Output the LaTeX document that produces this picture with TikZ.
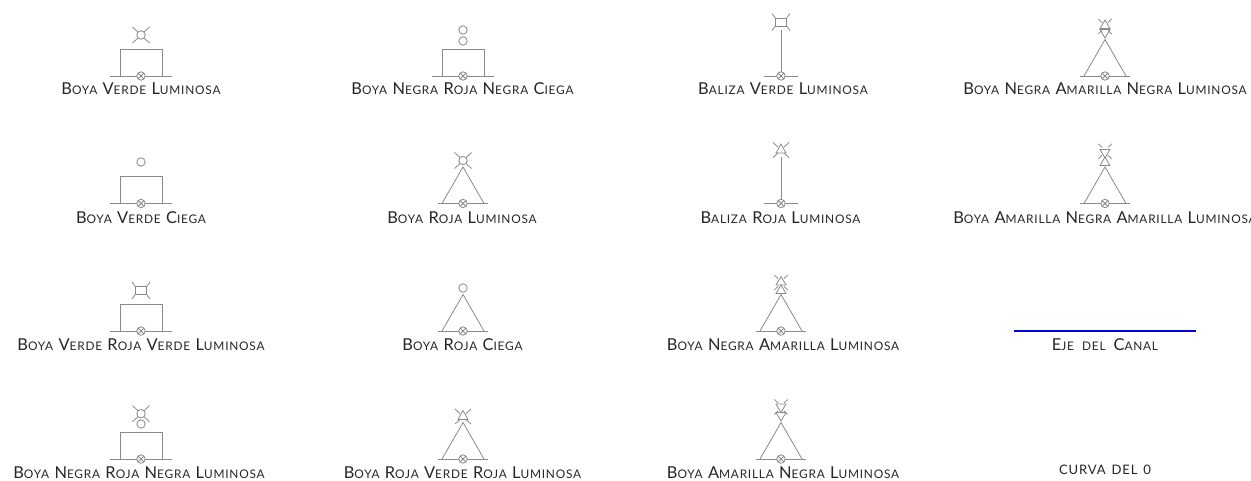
\documentclass[tikz,border=0pt]{standalone}
\usepackage{fontspec}
\setmainfont{Lato}[LetterSpace=6.5,WordSpace=1.4]
\newcommand\Cp[1]{{\fontsize{12.3}{12}\selectfont #1}}
\newcommand\Rays[4]{% half-width outer, half-height outer, inner x, inner y
  \draw (-#1,-#2) -- (-#3,-#4) (#1,-#2) -- (#3,-#4) (-#1,#2) -- (-#3,#4) (#1,#2) -- (#3,#4);}
\tikzset{
  x=0.75pt,y=-0.75pt,
  sym/.style={draw=black!46,line width=0.6pt},
  lab/.style={font=\fontsize{8.9}{10}\selectfont,text=black!85,inner sep=0pt,anchor=base},
  every pic/.style={sym},
  pics/mark/.style={code={\draw (0,0) circle (4.2); \draw (-3,-3) -- (3,3) (-3,3) -- (3,-3);}},
  pics/boxbase/.style={code={
    \draw (-31,0) -- (-4.2,0) (4.2,0) -- (31,0);
    \draw (-21,0) -- (-21,-27) -- (21,-27) -- (21,0);
    \pic {mark};}},
  pics/conebase/.style={code={
    \draw (-25,0) -- (-4.2,0) (4.2,0) -- (25,0);
    \draw (-21,0) -- (0,-36.5) -- (21,0);
    \pic {mark};}},
  pics/polebase/.style={code={
    \draw (-17,0) -- (-4.2,0) (4.2,0) -- (17,0);
    \draw (0,-4.2) -- (0,-#1);
    \pic {mark};}},
  pics/circ/.style={code={\draw (0,0) circle (4.2);}},
  pics/circrays/.style={code={\draw (0,0) circle (4.2); \Rays{8.5}{8}{3}{3}}},
  pics/squarerays/.style={code={\draw (-5.7,-4) rectangle (5.7,4); \Rays{9}{8.5}{5.7}{4}}},
  pics/uptri/.style={code={\draw (0,-4.5) -- (5,4) -- (-5,4) -- cycle;}},
  pics/downtri/.style={code={\draw (0,4.5) -- (5,-4) -- (-5,-4) -- cycle;}},
  pics/uptrirays/.style={code={\draw (0,-6) -- (5,3) -- (-5,3) -- cycle; \Rays{8}{7.5}{3}{3}}},
  pics/twinrays/.style={code={\Rays{6.7}{7.5}{3}{4}}},
}
\begin{document}
\begin{tikzpicture}
\clip (0,0) rectangle (1251,481);
% row 1
\pic at (141,76) {boxbase};   \pic at (141,35) {circrays};
\pic at (463,76) {boxbase};   \pic at (463,30) {circ}; \pic at (463,41) {circ};
\pic at (781,76) {polebase=46}; \pic at (781,22) {squarerays};
\pic at (1105,76) {conebase}; \pic at (1105,24.5) {uptri}; \pic at (1105,33.5) {downtri}; \pic at (1105,26.5) {twinrays};
% row 2
\pic at (141,203.5) {boxbase}; \pic at (141,162) {circ};
\pic at (463,203.5) {conebase}; \pic at (463,160.5) {circrays};
\pic at (781,203.5) {polebase=47}; \pic at (781,150) {uptrirays};
\pic at (1105,203.5) {conebase}; \pic at (1105,153.5) {downtri}; \pic at (1105,161.5) {uptri}; \pic at (1105,151.3) {twinrays};
% row 3
\pic at (141,331) {boxbase};  \pic at (141,290.5) {squarerays};
\pic at (463,331) {conebase}; \pic at (463,288) {circ};
\pic at (781,331) {conebase}; \pic at (781,281) {uptri}; \pic at (781,289.5) {uptri}; \pic at (781,282.5) {twinrays};
% row 4
\pic at (141,459) {boxbase};  \pic at (141,424) {circ}; \pic at (141,413.7) {circrays};
\pic at (463,459) {conebase}; \pic at (463,416.5) {uptrirays};
\pic at (781,459) {conebase}; \pic at (781,408) {downtri}; \pic at (781,416.5) {downtri}; \pic at (781,407) {twinrays};
% canal axis
\coordinate (ejeA) at (1014,331); \coordinate (ejeB) at (1196,331);
\draw[blue!88!black,line width=1.9pt] (ejeA) -- (ejeB);
% labels
\node[lab] (l11) at (141,95) {\Cp{B}OYA \Cp{V}ERDE \Cp{L}UMINOSA};
\node[lab] (l12) at (462.5,95) {\Cp{B}OYA \Cp{N}EGRA \Cp{R}OJA \Cp{N}EGRA \Cp{C}IEGA};
\node[lab] (l13) at (783,95) {\Cp{B}ALIZA \Cp{V}ERDE \Cp{L}UMINOSA};
\node[lab] (l14) at (1105,95) {\Cp{B}OYA \Cp{N}EGRA \Cp{A}MARILLA \Cp{N}EGRA \Cp{L}UMINOSA};
\node[lab] (l21) at (141,223.5) {\Cp{B}OYA \Cp{V}ERDE \Cp{C}IEGA};
\node[lab] (l22) at (462,223.5) {\Cp{B}OYA \Cp{R}OJA \Cp{L}UMINOSA};
\node[lab] (l23) at (780.5,223.5) {\Cp{B}ALIZA \Cp{R}OJA \Cp{L}UMINOSA};
\node[lab] (l24) at (1105,223.5) {\Cp{B}OYA \Cp{A}MARILLA \Cp{N}EGRA \Cp{A}MARILLA \Cp{L}UMINOSA};
\node[lab] (l31) at (141,350) {\Cp{B}OYA \Cp{V}ERDE \Cp{R}OJA \Cp{V}ERDE \Cp{L}UMINOSA};
\node[lab] (l32) at (462.5,350) {\Cp{B}OYA \Cp{R}OJA \Cp{C}IEGA};
\node[lab] (l33) at (783,350) {\Cp{B}OYA \Cp{N}EGRA \Cp{A}MARILLA \Cp{L}UMINOSA};
\node[lab] (l34) at (1105,350) {\Cp{E}JE\hspace{2pt} DEL\hspace{2pt} \Cp{C}ANAL};
\node[lab] (l41) at (139,478) {\Cp{B}OYA \Cp{N}EGRA \Cp{R}OJA \Cp{N}EGRA \Cp{L}UMINOSA};
\node[lab] (l42) at (462.5,478) {\Cp{B}OYA \Cp{R}OJA \Cp{V}ERDE \Cp{R}OJA \Cp{L}UMINOSA};
\node[lab] (l43) at (783,478) {\Cp{B}OYA \Cp{A}MARILLA \Cp{N}EGRA \Cp{L}UMINOSA};
\node[lab,font=\fontsize{9.8}{10}\selectfont] (l44) at (1105,474) {CURVA DEL 0};
\end{tikzpicture}
\end{document}
